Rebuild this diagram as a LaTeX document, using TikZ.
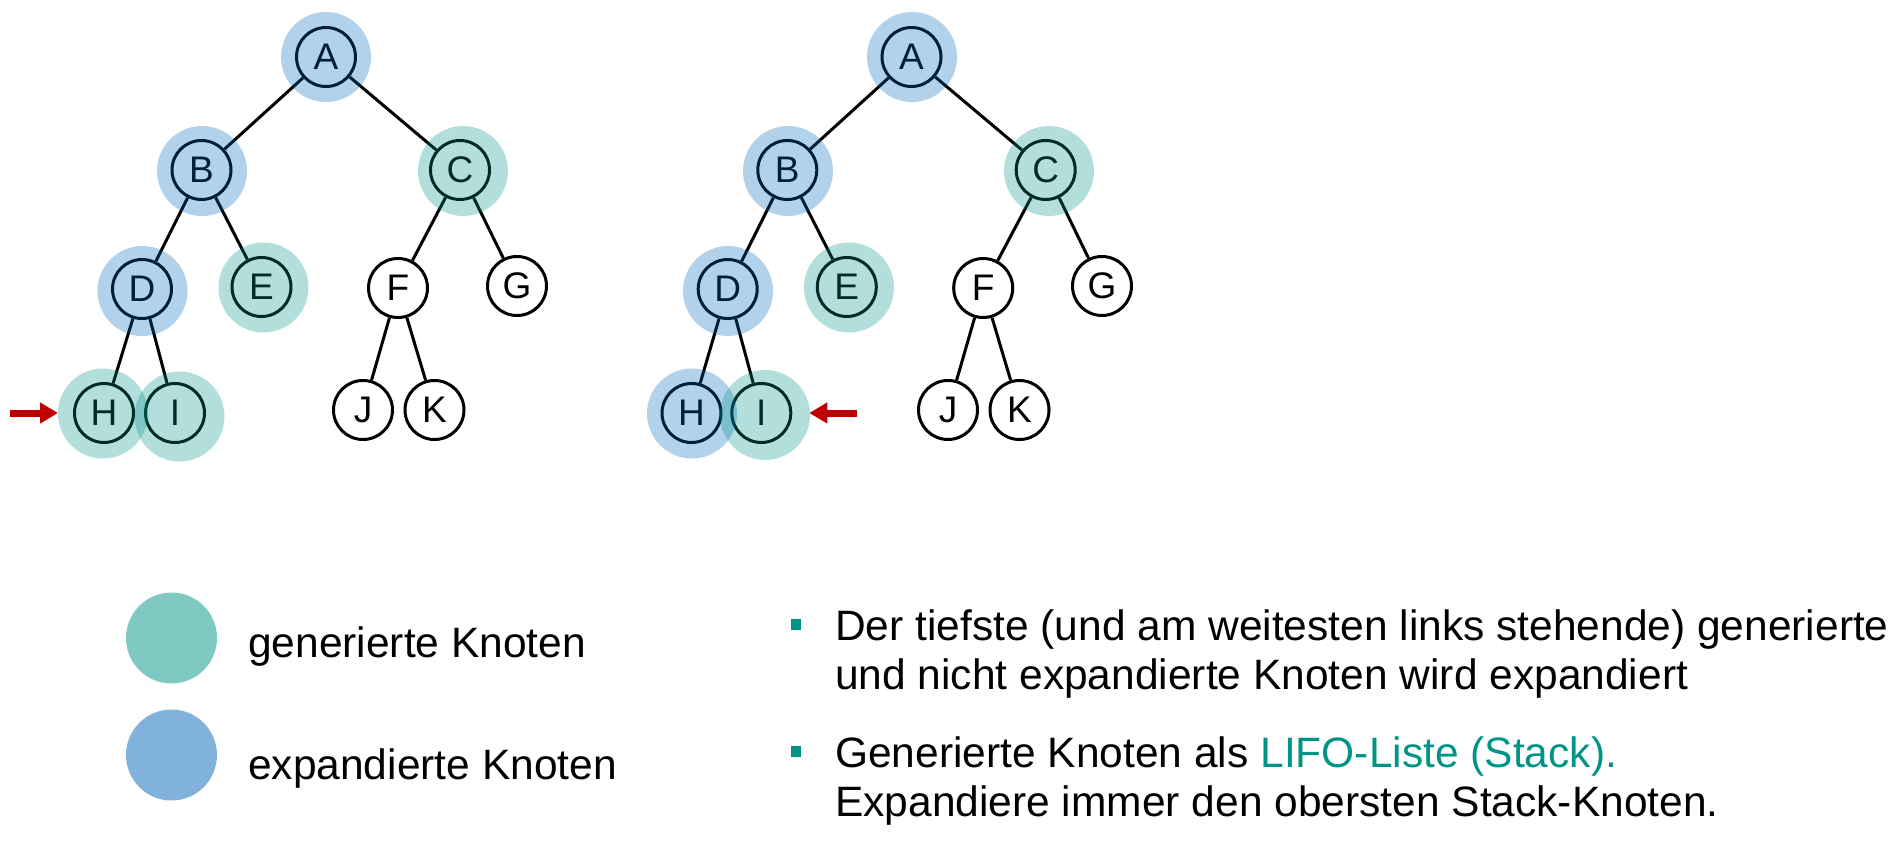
\documentclass[tikz,border=0pt]{standalone}
\usepackage{fontspec}
\setmainfont{Liberation Sans}
\usepackage{xcolor}
\usetikzlibrary{arrows.meta}
\definecolor{gencol}{RGB}{0,148,135}
\definecolor{expcol}{RGB}{0,102,185}
\definecolor{markred}{RGB}{192,0,0}
\tikzset{
  knode/.style   ={draw,circle,line width=3pt,minimum size=59pt,inner sep=0pt,
                    font=\fontsize{37}{40}\selectfont},
  kedge/.style   ={line width=3pt},
  genhalo/.style ={fill=gencol,fill opacity=0.3},
  exphalo/.style ={fill=expcol,fill opacity=0.3},
  marker/.style  ={-{Triangle[length=18pt,width=20pt]},line width=7pt,markred},
  txt/.style     ={anchor=base west,inner sep=0pt,font=\fontsize{42.5}{49}\selectfont},
  sqbullet/.style={fill=gencol,minimum width=10pt,minimum height=11pt,inner sep=0pt},
}
\begin{document}
\begin{tikzpicture}[x=1pt,y=-1pt]
\useasboundingbox (0,0) rectangle (1901,850);
% Left tree
\node[knode] (A1) at (326,57)    {A};
\node[knode] (B1) at (201.5,170) {B};
\node[knode] (C1) at (460,170)   {C};
\node[knode] (D1) at (142,289)   {D};
\node[knode] (E1) at (261.5,287) {E};
\node[knode] (F1) at (398,288)   {F};
\node[knode] (G1) at (517,286)   {G};
\node[knode] (H1) at (104,413)   {H};
\node[knode] (I1) at (175,413)   {I};
\node[knode] (J1) at (363,410)   {J};
\node[knode] (K1) at (434.5,410) {K};
\draw[kedge] (A1) -- (B1); \draw[kedge] (A1) -- (C1); \draw[kedge] (B1) -- (D1); \draw[kedge] (B1) -- (E1);
\draw[kedge] (C1) -- (F1); \draw[kedge] (C1) -- (G1); \draw[kedge] (D1) -- (H1); \draw[kedge] (D1) -- (I1);
\draw[kedge] (F1) -- (J1); \draw[kedge] (F1) -- (K1);
\fill[exphalo] (326,57) circle (45pt);
\fill[exphalo] (202,171) circle (45pt);
\fill[genhalo] (463,171) circle (45pt);
\fill[exphalo] (142.5,291) circle (45pt);
\fill[genhalo] (263.5,287.5) circle (45pt);
\fill[genhalo] (103,413.5) circle (45pt);
\fill[genhalo] (179.5,416.5) circle (45pt);
\coordinate (m1) at (10,413);
\draw[marker,shorten >=15pt] (m1) -- (H1);
% Right tree
\node[knode] (A2) at (911.5,57)   {A};
\node[knode] (B2) at (787.3,170)  {B};
\node[knode] (C2) at (1045.7,170) {C};
\node[knode] (D2) at (727.7,289)  {D};
\node[knode] (E2) at (846.8,287)  {E};
\node[knode] (F2) at (983.2,288)  {F};
\node[knode] (G2) at (1102,286)   {G};
\node[knode] (H2) at (691.5,413)  {H};
\node[knode] (I2) at (761.3,413)  {I};
\node[knode] (J2) at (948,410)    {J};
\node[knode] (K2) at (1019.5,410) {K};
\draw[kedge] (A2) -- (B2); \draw[kedge] (A2) -- (C2); \draw[kedge] (B2) -- (D2); \draw[kedge] (B2) -- (E2);
\draw[kedge] (C2) -- (F2); \draw[kedge] (C2) -- (G2); \draw[kedge] (D2) -- (H2); \draw[kedge] (D2) -- (I2);
\draw[kedge] (F2) -- (J2); \draw[kedge] (F2) -- (K2);
\fill[exphalo] (912,57) circle (45pt);
\fill[exphalo] (788,171) circle (45pt);
\fill[genhalo] (1049,171) circle (45pt);
\fill[exphalo] (728,291) circle (45pt);
\fill[genhalo] (849,287.5) circle (45pt);
\fill[exphalo] (692,413.5) circle (45pt);
\fill[genhalo] (765,415) circle (45pt);
\coordinate (m2) at (857,413);
\draw[marker,shorten >=17pt] (m2) -- (I2);
% Legend
\fill[gencol!50] (171.5,638) circle (45.5pt);
\fill[expcol!50] (171.5,755) circle (45.5pt);
\node[txt] (lgen) at (248,657) {generierte Knoten};
\node[txt] (lexp) at (248,779) {expandierte Knoten};
% Bullets
\node[sqbullet] (s1) at (796,624) {};
\node[sqbullet] (s2) at (796,751) {};
\node[txt] (t1) at (835,640) {Der tiefste (und am weitesten links stehende) generierte};
\node[txt] (t2) at (835,689) {und nicht expandierte Knoten wird expandiert};
\node[txt] (t3) at (835,767) {Generierte Knoten als \textcolor{gencol}{LIFO-Liste (Stack).}};
\node[txt] (t4) at (835,816) {Expandiere immer den obersten Stack-Knoten.};
\end{tikzpicture}
\end{document}
